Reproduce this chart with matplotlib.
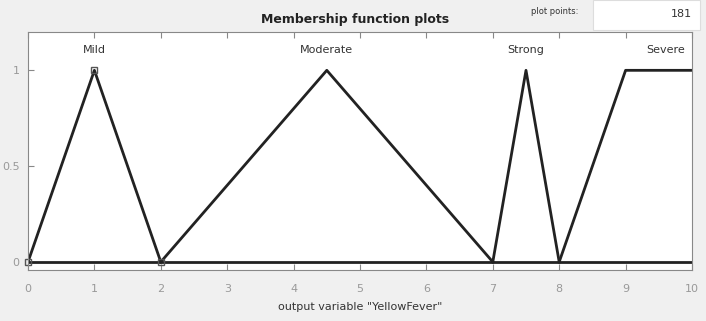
import numpy as np
import matplotlib.pyplot as plt

# membership functions of "YellowFever"
mf_names = ['Mild', 'Moderate', 'Strong', 'Severe']
mf_x = [[0, 1, 2], [2, 4.5, 7], [7, 7.5, 8], [8, 9, 10]]
mf_y = [[0, 1, 0], [0, 1, 0], [0, 1, 0], [0, 1, 1]]
label_x = [1, 4.5, 7.5, 9.6]
plot_points = 181

fig = plt.figure(figsize=(7.06, 3.21), dpi=100, facecolor='#f0f0f0')
ax = fig.add_axes([28 / 706, 1 - 270 / 321, 664 / 706, 238 / 321])
ax.set_facecolor('white')

# baseline over the whole range
ax.plot([0, 10], [0, 0], color='#222222', lw=2)
for xs, ys in zip(mf_x, mf_y):
    ax.plot(xs, ys, color='#222222', lw=2)

# selected mf (Mild) gets square markers
ax.plot(mf_x[0], mf_y[0], ls='none', marker='s', ms=5, mfc='none',
        mec='#555555', mew=1, clip_on=False)

for name, lx in zip(mf_names, label_x):
    ax.text(lx, 1.08, name, ha='center', va='bottom', fontsize=8, color='#333333')

ax.set_xlim(0, 10)
ax.set_ylim(-0.042, 1.2)
ax.set_xticks(range(11))
ax.set_yticks([0, 0.5, 1])
ax.set_yticklabels(['0', '0.5', '1'])
ax.tick_params(direction='in', top=True, length=4, color='#888888',
               labelcolor='#999999', labelsize=8)
ax.tick_params(axis='x', pad=10)
ax.tick_params(axis='y', pad=6)
for s in ax.spines.values():
    s.set_color('#888888')
ax.set_xlabel('output variable "YellowFever"', fontsize=8, color='#333333', labelpad=6)

fig.text(355 / 706, 1 - 20 / 321, 'Membership function plots', ha='center', va='center',
         fontsize=9, fontweight='bold', color='#222222')
fig.text(555 / 706, 1 - 12 / 321, 'plot points:', ha='center', va='center',
         fontsize=6, color='#333333')
box = plt.Rectangle((593 / 706, 1 - 30 / 321), 107 / 706, 30 / 321,
                    transform=fig.transFigure, facecolor='white', edgecolor='#dddddd', lw=0.8)
fig.add_artist(box)
fig.text(692 / 706, 1 - 14 / 321, str(plot_points), ha='right', va='center',
         fontsize=8, color='#333333')

fig.savefig('out.png', dpi=100, facecolor=fig.get_facecolor())
